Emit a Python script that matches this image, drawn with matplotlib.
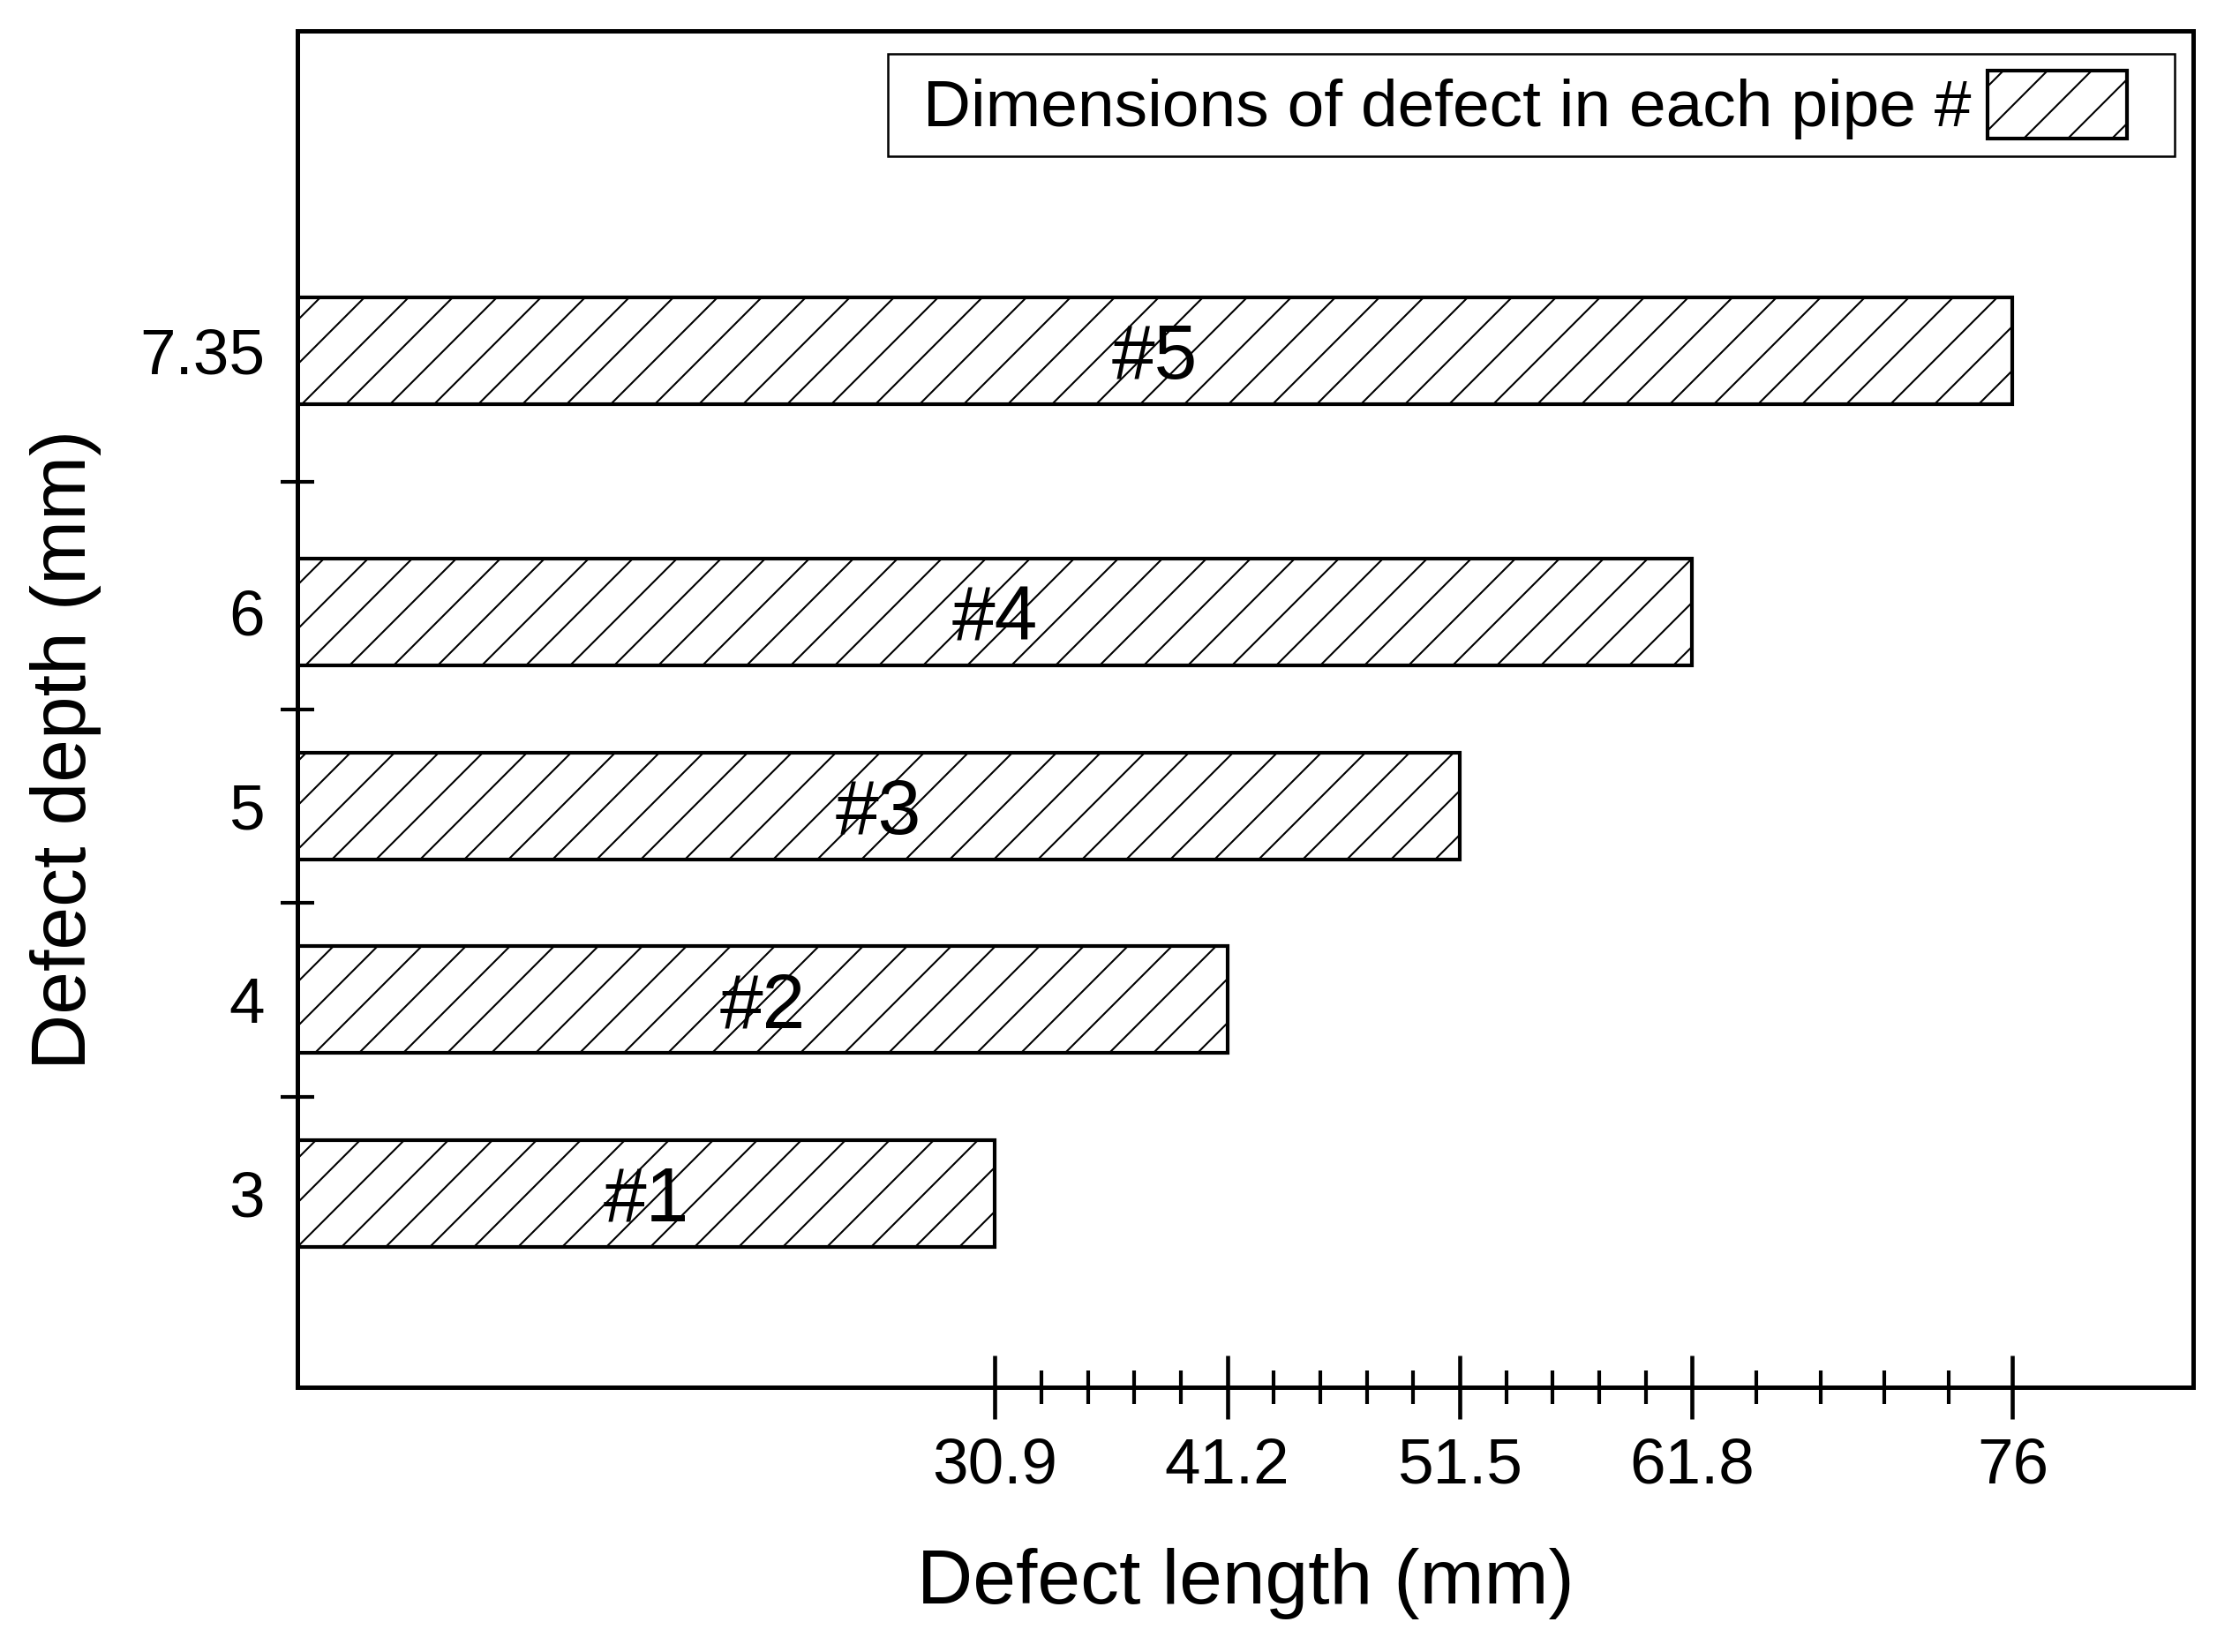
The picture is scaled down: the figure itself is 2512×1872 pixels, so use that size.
import numpy as np
import matplotlib
matplotlib.use("Agg")
import matplotlib.pyplot as plt

# Глубина и длина дефекта для каждой трубы
depths = [3, 4, 5, 6, 7.35]
lengths = [30.9, 41.2, 51.5, 61.8, 76]
pipes = ["#1", "#2", "#3", "#4", "#5"]
depth_labels = ["3", "4", "5", "6", "7.35"]
length_labels = ["30.9", "41.2", "51.5", "61.8", "76"]
legend_label = " Dimensions of defect in each pipe #"

plt.rcParams["font.family"] = ["Liberation Sans", "DejaVu Sans"]
plt.rcParams["hatch.linewidth"] = 0.5
plt.rcParams["hatch.color"] = "black"

W, H, DPI = 2512, 1872, 300
fig, ax = plt.subplots(figsize=(W / DPI, H / DPI), dpi=DPI)
fig.subplots_adjust(left=337 / W, right=2485 / W, top=1 - 35 / H, bottom=1 - 1572 / H)

ax.barh(depths, lengths, height=0.55, color="white", edgecolor="black",
        linewidth=1.0, hatch="//", label=legend_label)

for y, w, name in zip(depths, lengths, pipes):
    ax.text(w / 2, y, name, ha="center", va="center_baseline", fontsize=21)

ax.set_xlim(0, 84)
ax.set_ylim(2, 9)

# ось X: подписи только в точках длин, по 4 промежуточных деления
ax.set_xticks(lengths)
ax.set_xticklabels(length_labels, fontsize=17.5)
minor_x = []
for a, b in zip(lengths[:-1], lengths[1:]):
    minor_x += list(np.linspace(a, b, 6)[1:-1])
ax.set_xticks(minor_x, minor=True)
ax.tick_params(axis="x", which="major", direction="inout", length=17.3, width=1.1, pad=5)
ax.tick_params(axis="x", which="minor", direction="inout", length=9.1, width=1.0)

# ось Y: подписи на барах, деления между ними
ax.set_yticks(depths)
ax.set_yticklabels(depth_labels, fontsize=17.5)
mid_y = [(a + b) / 2 for a, b in zip(depths[:-1], depths[1:])]
ax.set_yticks(mid_y, minor=True)
ax.tick_params(axis="y", which="major", length=0, pad=8.9)
ax.tick_params(axis="y", which="minor", direction="inout", length=8.9, width=1.0)

for s in ax.spines.values():
    s.set_linewidth(1.2)

ax.set_xlabel("Defect length (mm)", fontsize=21, labelpad=14)
ax.set_ylabel("Defect depth (mm)", fontsize=21)
ax.yaxis.set_label_coords(-0.1034, 0.4698)

leg = ax.legend(loc="upper left", bbox_to_anchor=(0.3115, 0, 0.6787, 0.9831),
                mode="expand", borderaxespad=0, markerfirst=False, fontsize=18,
                handlelength=2.1, handleheight=1.2, handletextpad=0.25,
                borderpad=0.25, fancybox=False, edgecolor="black", framealpha=1)
leg.get_frame().set_linewidth(0.6)

fig.savefig("out.png", dpi=DPI)
